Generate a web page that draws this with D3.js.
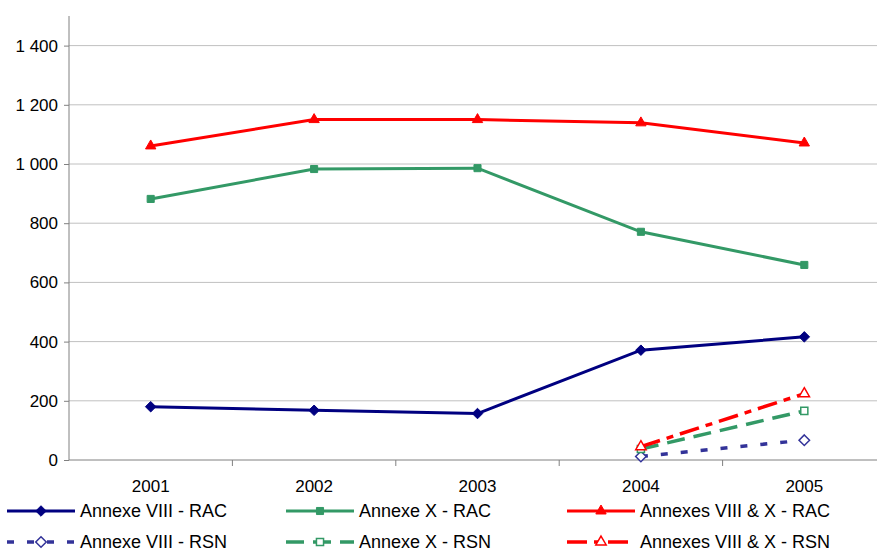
<!DOCTYPE html>
<html><head><meta charset="utf-8">
<script src="https://cdn.jsdelivr.net/npm/d3@7"></script>
<style>body{margin:0;background:#fff}svg{display:block}text{font-family:Arial,"Liberation Sans",sans-serif}</style>
</head><body>
<svg id="c" width="877" height="552"></svg>
<script>
const years = ["2001","2002","2003","2004","2005"];
const yTicks = [0,200,400,600,800,1000,1200,1400];
const viiiRAC = [180,168,157,371,416];
const xRAC = [882,983,986,771,659];
const viiixRAC = [1061,1150,1150,1139,1071];
const viiiRSN = [null,null,null,12,67];
const xRSN = [null,null,null,37,166];
const viiixRSN = [null,null,null,45,224];

const series = [
 {name:"Annexe VIII - RAC", values:viiiRAC, color:"#000080", dash:null, marker:"diamond", fill:true},
 {name:"Annexe X - RAC", values:xRAC, color:"#339966", dash:null, marker:"square", fill:true},
 {name:"Annexes VIII & X - RAC", values:viiixRAC, color:"#FF0000", dash:null, marker:"triangle", fill:true},
 {name:"Annexe VIII - RSN", values:viiiRSN, color:"#333399", dash:"7,13", marker:"diamond", fill:false},
 {name:"Annexe X - RSN", values:xRSN, color:"#339966", dash:"18,9", marker:"square", fill:false},
 {name:"Annexes VIII & X - RSN", values:viiixRSN, color:"#FF0000", dash:"20,7,7,7", marker:"triangle", fill:false}
];

const svg = d3.select("#c");
const x = d3.scaleBand().domain(years).range([69, 886]);
const y = d3.scaleLinear().domain([0,1500]).range([460, 16]);

// gridlines
svg.append("g").selectAll("line").data(yTicks.filter(d=>d>0)).join("line")
  .attr("x1",69).attr("x2",877).attr("y1",d=>y(d)).attr("y2",d=>y(d))
  .attr("stroke","#c0c0c0").attr("stroke-width",1);

// y axis
const ya = svg.append("g").attr("transform","translate(69,0)")
  .call(d3.axisLeft(y).tickValues(yTicks).tickSize(5).tickPadding(6)
    .tickFormat(d=>d3.format(",")(d).replace(/,/g," ")));
ya.select(".domain").attr("stroke","#808080").attr("d","M0,16V460");
ya.selectAll(".tick line").attr("stroke","#808080");
ya.selectAll("text").attr("font-size",17).attr("fill","#000");

// x axis
const xa = svg.append("g").attr("transform","translate(0,460)")
  .call(d3.axisBottom(x).tickSize(0).tickPadding(20));
xa.select(".domain").attr("stroke","#808080").attr("d","M69,0H877");
xa.selectAll("text").attr("font-size",17).attr("fill","#000");
svg.append("g").selectAll("line").data(years.slice(1)).join("line")
  .attr("x1",d=>x(d)).attr("x2",d=>x(d)).attr("y1",460).attr("y2",466)
  .attr("stroke","#808080");

const cx = d => x(d)+x.bandwidth()/2;

function marker(g, type, color, fill, size){
  let p;
  if(type==="diamond") p = d3.symbol(d3.symbolDiamond2, size*1.1)();
  else if(type==="square") p = d3.symbol(d3.symbolSquare2, size)();
  else p = d3.symbol(d3.symbolTriangle2, size*1.2)();
  g.append("path").attr("d",p)
    .attr("fill", fill?color:"#fff").attr("stroke",color).attr("stroke-width",fill?1:1.5);
}

series.forEach(s=>{
  const pts = years.map((yr,i)=>({yr,v:s.values[i]})).filter(d=>d.v!==null);
  const line = d3.line().x(d=>cx(d.yr)).y(d=>y(d.v));
  svg.append("path").datum(pts).attr("d",line).attr("fill","none")
    .attr("stroke",s.color).attr("stroke-width",s.dash?3.5:3)
    .attr("stroke-dasharray",s.dash);
  pts.forEach(d=>{
    const g = svg.append("g").attr("transform",`translate(${cx(d.yr)},${y(d.v)})`);
    marker(g,s.marker,s.color,s.fill,64);
  });
});

// legend
const cols = [7, 286, 567];
const rows = [511, 542];
series.forEach((s,i)=>{
  const lx = cols[i%3], ly = rows[Math.floor(i/3)];
  const g = svg.append("g");
  g.append("line").attr("x1",lx).attr("x2",lx+68).attr("y1",ly).attr("y2",ly)
    .attr("stroke",s.color).attr("stroke-width",s.dash?3.5:3).attr("stroke-dasharray",s.dash);
  const m = g.append("g").attr("transform",`translate(${lx+34},${ly})`);
  marker(m,s.marker,s.color,s.fill,64);
  g.append("text").attr("x",lx+73).attr("y",ly).attr("dy","0.35em")
    .attr("font-size",18).attr("fill","#000").text(s.name);
});
</script>
</body></html>
